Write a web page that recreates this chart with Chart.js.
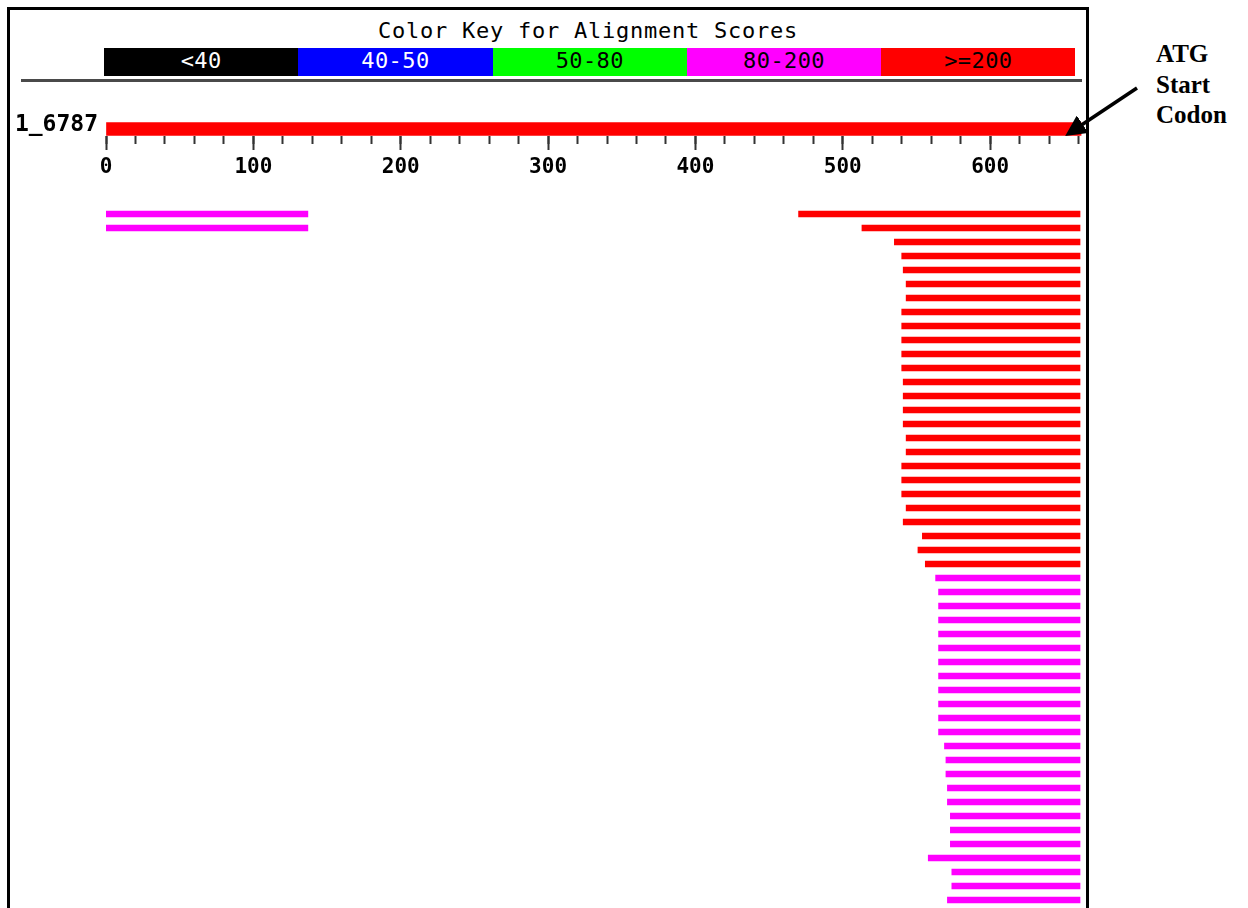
<!DOCTYPE html>
<html>
<head>
<meta charset="utf-8">
<script src="https://cdn.jsdelivr.net/npm/chart.js@4.4.1/dist/chart.umd.min.js"></script>
<style>
  body { margin: 0; background: #fff; width: 1248px; height: 908px; overflow: hidden; position: relative; }
  .frame { position: absolute; left: 7px; top: 7px; width: 1076px; height: 940px; border: 3px solid #000; }
  .title { position: absolute; left: 0; width: 1176px; top: 18px; text-align: center; line-height: 26px;
           font: 22px "DejaVu Sans Mono", monospace; letter-spacing: 0.75px; color: #000; }
  .key { position: absolute; left: 104px; top: 48px; height: 28px; display: flex; }
  .key div { width: 194.3px; height: 28px; text-align: center; line-height: 32px; overflow: visible;
             font: 22px "DejaVu Sans Mono", monospace; letter-spacing: 0.4px; }
  .rule { position: absolute; left: 21px; top: 79px; width: 1061px; height: 3px; background: #4a4a4a; }
  canvas { position: absolute; left: 0; }
  .note { position: absolute; left: 1156px; top: 39px; font: bold 25px "Liberation Serif", serif; line-height: 30.5px; color: #000; }
  svg { position: absolute; left: 0; top: 0; }
</style>
</head>
<body>
<div class="frame"></div>
<div class="title">Color Key for Alignment Scores</div>
<div class="key" id="key"></div>
<div class="rule"></div>
<canvas id="query" width="1100" height="80" style="top:100px"></canvas>
<canvas id="hits" width="1100" height="700" style="top:207px"></canvas>
<div class="note">ATG<br>Start<br>Codon</div>
<svg width="1248" height="908">
  <defs>
    <marker id="head" markerWidth="6" markerHeight="6" refX="4" refY="3" orient="auto">
      <path d="M0,0 L6,3 L0,6 z" fill="#000"/>
    </marker>
  </defs>
  <line x1="1137" y1="88" x2="1071" y2="132" stroke="#000" stroke-width="3.5" marker-end="url(#head)"/>
</svg>
<script>
// score bins of the colour key
const keyLabels = ['<40', '40-50', '50-80', '80-200', '>=200'];
const keyColors = ['#000000', '#0000ff', '#00ff00', '#ff00ff', '#ff0000'];
const keyText = ['#ffffff', '#ffffff', '#000000', '#000000', '#000000'];

const queryName = '1_6787';
const queryLength = 662;
const hitEnd = 661;

// hits scoring >=200 (red), start positions top to bottom
const redStarts = [470, 513, 535, 540, 541, 543, 543, 540, 540, 540, 540, 540, 541,
  541, 541, 541, 543, 543, 540, 540, 540, 543, 541, 554, 551, 556];
// hits scoring 80-200 (magenta)
const magentaStarts = [563, 565, 565, 565, 565, 565, 565, 565, 565, 565, 565, 565,
  569, 570, 570, 571, 571, 573, 573, 573, 558, 574, 574, 571];
// second, weaker HSP at the 5' end on the first two hits
const leftHsp = [0, 137];
const leftHspRows = [0, 1];

const keyEl = document.getElementById('key');
keyLabels.forEach((label, i) => {
  const d = document.createElement('div');
  d.textContent = label;
  d.style.background = keyColors[i];
  d.style.color = keyText[i];
  keyEl.appendChild(d);
});

const monoBold = { family: 'DejaVu Sans Mono', weight: 'bold' };

new Chart(document.getElementById('query'), {
  type: 'bar',
  data: {
    labels: [queryName],
    datasets: [{
      data: [[0, queryLength]],
      backgroundColor: keyColors[4],
      barThickness: 13,
      borderWidth: 0
    }]
  },
  options: {
    indexAxis: 'y',
    responsive: false,
    animation: false,
    layout: { padding: { top: 22, right: 18.5, left: 0, bottom: 0 } },
    plugins: { legend: { display: false }, tooltip: { enabled: false } },
    scales: {
      y: {
        grid: { display: false },
        border: { display: false },
        ticks: { color: '#000', padding: 0, labelOffset: -4, font: { ...monoBold, size: 23 } },
        afterFit: s => { s.width = 106; }
      },
      xMinor: {
        axis: 'x',
        position: 'bottom',
        weight: 0,
        min: 0,
        max: queryLength,
        border: { display: false },
        grid: { drawOnChartArea: false, tickLength: 8, tickWidth: 2, tickColor: '#333' },
        ticks: { display: false, stepSize: 20, includeBounds: false },
        afterFit: s => { s.height = 0; }
      },
      x: {
        position: 'bottom',
        weight: 1,
        min: 0,
        max: queryLength,
        border: { display: false },
        grid: { drawOnChartArea: false, tickLength: 14, tickWidth: 2, tickColor: '#333' },
        ticks: { stepSize: 100, includeBounds: false, padding: 5, color: '#000', maxRotation: 0,
                 font: { ...monoBold, size: 21 } },
        afterFit: s => { s.height = 44; }
      }
    }
  }
});

const rowCount = redStarts.length + magentaStarts.length;
const redData = [];
const magentaData = [];
for (let i = 0; i < rowCount; i++) {
  if (i < redStarts.length) {
    redData.push([redStarts[i], hitEnd]);
    magentaData.push(leftHspRows.includes(i) ? leftHsp : null);
  } else {
    redData.push(null);
    magentaData.push([magentaStarts[i - redStarts.length], hitEnd]);
  }
}

new Chart(document.getElementById('hits'), {
  type: 'bar',
  data: {
    labels: redData.map((_, i) => 'hit ' + (i + 1)),
    datasets: [
      { label: keyLabels[4], data: redData, backgroundColor: keyColors[4], barThickness: 6, borderWidth: 0, grouped: false },
      { label: keyLabels[3], data: magentaData, backgroundColor: keyColors[3], barThickness: 6, borderWidth: 0, grouped: false }
    ]
  },
  options: {
    indexAxis: 'y',
    responsive: false,
    animation: false,
    layout: { padding: { top: 0, right: 18.5, left: 106, bottom: 0 } },
    plugins: { legend: { display: false }, tooltip: { enabled: false } },
    scales: {
      x: { display: false, min: 0, max: queryLength },
      y: { display: false }
    }
  }
});
</script>
</body>
</html>
